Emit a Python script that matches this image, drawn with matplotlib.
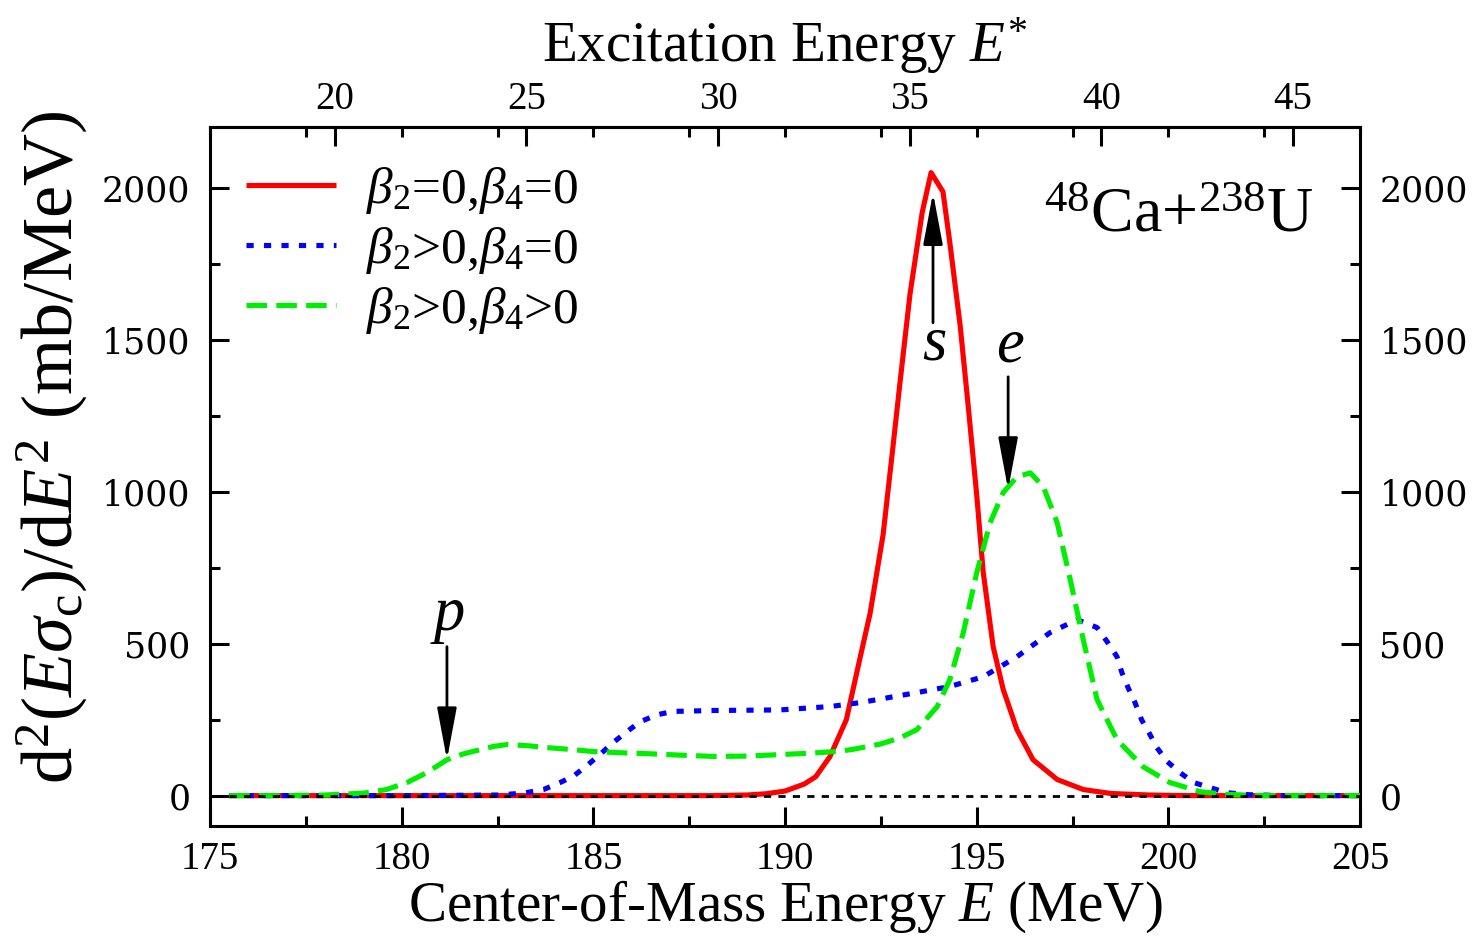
import matplotlib
matplotlib.use("Agg")
import matplotlib.pyplot as plt
from matplotlib.ticker import MultipleLocator, FixedLocator

plt.rcParams["font.family"] = ["Liberation Serif", "DejaVu Serif"]
plt.rcParams["mathtext.fontset"] = "custom"
plt.rcParams["mathtext.rm"] = "Liberation Serif"
plt.rcParams["mathtext.it"] = "Liberation Serif:italic"
plt.rcParams["mathtext.bf"] = "Liberation Serif:bold"

# Q-value offset: excitation energy E* = E - Q
Q_VALUE = 158.25

# beta2 = 0, beta4 = 0 (spherical)
e_sph = [175.5, 180.0, 185.0, 188.0, 189.0, 189.5, 190.0, 190.5, 190.8, 191.17,
         191.6, 191.96, 192.22, 192.56, 192.8, 193.0, 193.26, 193.58, 193.81,
         194.12, 194.3, 194.57, 194.78, 195.0, 195.17, 195.43, 195.69, 196.05,
         196.47, 197.1, 197.78, 198.5, 199.5, 200.5, 205.0]
y_sph = [0, 0, 0, 0, 2, 6, 15, 38, 62, 128,
         250, 455, 600, 860, 1130, 1360, 1650, 1920, 2050,
         1987, 1819, 1545, 1280, 990, 735, 490, 350, 217,
         118, 53, 20, 7, 2, 0, 0]

# beta2 > 0, beta4 = 0
e_b2 = [175.5, 180.0, 182.5, 183.17, 183.7, 184.13, 184.47, 184.86, 185.17, 185.51,
        185.88, 186.22, 186.66, 187.08, 188.12, 189.87, 191.17, 191.96, 193.44,
        194.3, 195.17, 196.05, 196.91, 197.62, 198.14, 198.4, 198.66, 198.79,
        198.95, 199.13, 199.3, 199.52, 199.7, 199.97, 200.3, 200.66, 201.1,
        201.5, 202.1, 203.0, 205.0]
y_b2 = [0, 0, 2, 8, 20, 43, 63, 102, 135, 174,
        211, 243, 266, 277, 280, 282, 293, 306, 339,
        359, 391, 457, 536, 579, 553, 507, 457, 404,
        355, 306, 250, 201, 158, 112, 76, 43, 26,
        10, 3, 0, 0]

# beta2 > 0, beta4 > 0
e_b24 = [175.5, 177.0, 178.0, 179.0, 179.6, 180.14, 180.66, 181.18, 181.6, 182.04,
         182.4, 182.75, 183.3, 183.79, 184.4, 185.0, 185.7, 186.4, 187.3, 188.12,
         189.0, 189.87, 190.7, 191.44, 191.8, 192.5, 193.0, 193.44, 193.97, 194.3,
         194.65, 195.0, 195.35, 195.69, 196.05, 196.4, 196.74, 197.1, 197.44,
         197.78, 198.14, 198.66, 199.34, 200.04, 200.83, 201.5, 202.5, 205.0]
y_b24 = [0, 0, 2, 8, 20, 43, 76, 118, 137, 151,
         162, 168, 164, 158, 152, 145, 141, 138, 133, 129,
         130, 135, 140, 146, 153, 170, 190, 217, 293, 382,
         536, 733, 898, 997, 1049, 1062, 1016, 898, 711,
         513, 316, 184, 95, 43, 13, 4, 0, 0]

series_labels = [r"$\beta_2$=0,$\beta_4$=0",
                 r"$\beta_2$>0,$\beta_4$=0",
                 r"$\beta_2$>0,$\beta_4$>0"]
series_colors = ["#ff0000", "#0000ff", "#00ee00"]

x_limits = (175, 205)
y_limits = (-100, 2200)
x_major, x_minor = 5, 2.5
y_major, y_minor = 500, 250
exc_ticks = [20, 25, 30, 35, 40, 45]

# arrow markers: (label, energy, tail value, tip value, label value)
markers = [("p", 181.18, 490, 118, 546),
           ("s", 193.86, 1556, 1984, 1434),
           ("e", 195.82, 1378, 1007, 1428)]

fig = plt.figure(figsize=(14.73, 9.38), dpi=100)
ax = fig.add_axes([0.1426, 0.1194, 0.7807, 0.7452])

lw = 3.7
ax.plot(e_sph, y_sph, color=series_colors[0], lw=lw, solid_capstyle="butt",
        label=series_labels[0], zorder=3)
ax.plot(e_b2, y_b2, color=series_colors[1], lw=lw, linestyle=(0, (1.4, 2.0)),
        dash_capstyle="butt", label=series_labels[1], zorder=3)
ax.plot(e_b24, y_b24, color=series_colors[2], lw=lw, linestyle=(0, (4.0, 1.8)),
        dash_capstyle="butt", label=series_labels[2], zorder=3)

# zero baseline
ax.hlines(0, e_sph[0], x_limits[1], colors="black", lw=2.0,
          linestyles=(0, (2.6, 2.6)), zorder=4)

ax.set_xlim(*x_limits)
ax.set_ylim(*y_limits)
ax.xaxis.set_major_locator(MultipleLocator(x_major))
ax.xaxis.set_minor_locator(MultipleLocator(x_minor))
ax.yaxis.set_major_locator(MultipleLocator(y_major))
ax.yaxis.set_minor_locator(MultipleLocator(y_minor))

for s in ax.spines.values():
    s.set_linewidth(2.2)

ax.tick_params(which="both", direction="in", width=2.2, top=False,
               right=True, labelright=True)
ax.tick_params(which="major", length=14)
ax.tick_params(which="minor", length=7)
ax.tick_params(axis="x", labelsize=28, pad=11)
ax.tick_params(axis="y", labelsize=25, pad=14)
for t in ax.yaxis.get_major_ticks():
    t.label1.set_fontfamily("DejaVu Serif")
    t.label2.set_fontfamily("DejaVu Serif")

ax.set_xlabel(r"Center-of-Mass Energy $E$ (MeV)", fontsize=41, labelpad=0)
ax.set_ylabel(r"d$^2$($E\sigma_{\rm c}$)/d$E^2$ (mb/MeV)", fontsize=52)
ax.yaxis.set_label_coords(-0.104, 0.542)

# excitation energy axis on top
top = ax.secondary_xaxis("top", functions=(lambda e: e - Q_VALUE,
                                           lambda ex: ex + Q_VALUE))
top.xaxis.set_major_locator(FixedLocator(exc_ticks))
bottom_grid = [x_limits[0] + i * x_minor
               for i in range(int((x_limits[1] - x_limits[0]) / x_minor) + 1)]
top.xaxis.set_minor_locator(FixedLocator([v - Q_VALUE for v in bottom_grid]))
top.tick_params(which="both", direction="in", width=2.2)
top.tick_params(which="major", length=14, labelsize=28, pad=6.5)
top.tick_params(which="minor", length=7)
top.spines["top"].set_linewidth(2.2)
top.set_xlabel(r"Excitation Energy $E^{*}$", fontsize=41, labelpad=14)

ax.legend(loc="upper left", bbox_to_anchor=(0.031, 0.945), frameon=False,
          fontsize=37, handlelength=1.75, handletextpad=0.6,
          labelspacing=0.17, borderaxespad=0, borderpad=0)

ax.text(203.78, 1855, r"$^{48}$Ca+$^{238}$U", fontsize=46, ha="right",
        va="baseline")

for name, ex, tail, tip, ylab in markers:
    ax.annotate("", xy=(ex, tip), xytext=(ex, tail),
                arrowprops=dict(arrowstyle="-|>,head_length=1.6,head_width=0.3",
                                mutation_scale=20, lw=2.0, color="black",
                                shrinkA=0, shrinkB=0), zorder=5)
    ax.text(ex + 0.05, ylab, name, fontsize=45, style="italic",
            ha="center", va="baseline")

fig.savefig("out.png", dpi=100)
